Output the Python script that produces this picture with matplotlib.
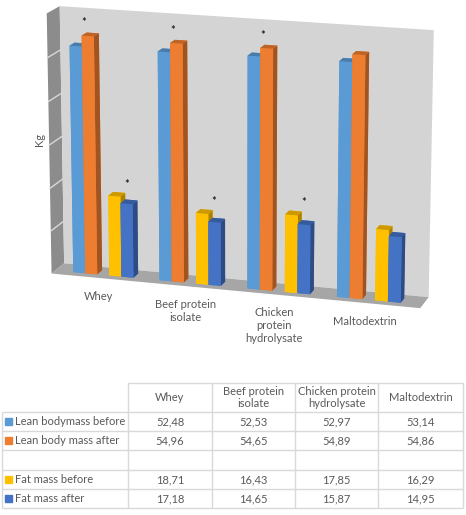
import numpy as np
import matplotlib.pyplot as plt
from matplotlib.colors import to_rgb
from matplotlib.patches import Rectangle

plt.rcParams['font.family'] = ['Lato', 'DejaVu Sans']

categories = ["Whey", "Beef protein\nisolate", "Chicken\nprotein\nhydrolysate", "Maltodextrin"]
table_headers = ["Whey", "Beef protein\nisolate", "Chicken protein\nhydrolysate", "Maltodextrin"]
series_names = ["Lean bodymass before", "Lean body mass after", "", "Fat mass before", "Fat mass after"]
lean_before = [52.48, 52.53, 52.97, 53.14]
lean_after = [54.96, 54.65, 54.89, 54.86]
fat_before = [18.71, 16.43, 17.85, 16.29]
fat_after = [17.18, 14.65, 15.87, 14.95]
lean_signif = [True, True, True, False]
fat_signif = [True, True, True, False]
colors = ["#5B9BD5", "#ED7D31", None, "#FFC000", "#4472C4"]

series = [lean_before, lean_after, None, fat_before, fat_after]
txt = "#595959"


def shade(c, f):
    r, g, b = to_rgb(c)
    return (r * f, g * f, b * f)


fig = plt.figure(figsize=(4.66, 5.15), dpi=100)

# ---- 3D column chart ----
ax = fig.add_axes([0.0, 0.365, 1.0, 0.65], projection='3d')
ax.set_proj_type('persp', focal_length=1.5)
ax.view_init(elev=15, azim=-73)
ax.set_box_aspect((3.7, 0.35, 2.6), zoom=1.38)

bw = 0.14
off = 0.21
for s, vals in enumerate(series):
    if vals is None:
        continue
    c = colors[s]
    # faces: bottom, top, front, back, left, right
    faces = [c, shade(c, 0.8), c, c, c, shade(c, 0.67)]
    for i, v in enumerate(vals):
        bars = ax.bar3d(i + off + s * bw, 0.3, 0, bw, 0.4, v,
                        color=faces, shade=False, edgecolor='none')
        bars.set_clip_on(False)

for i in range(len(categories)):
    if lean_signif[i]:
        ax.text(i + off + bw, 0.5, max(lean_before[i], lean_after[i]) + 2.5, "*",
                ha='center', va='center', fontsize=8, color='black', clip_on=False)
    if fat_signif[i]:
        ax.text(i + off + 4.3 * bw, 0.5, max(fat_before[i], fat_after[i]) + 2.5, "*",
                ha='center', va='center', fontsize=8, color='black', clip_on=False)
    ax.text(i + off + 2.4 * bw, 0, -3, categories[i], ha='center', va='top',
            fontsize=8, color=txt, clip_on=False)

for z in [10, 20, 30, 40, 50]:
    ax.plot([0, 0], [0, 1], [z, z], color='#d9d9d9', lw=1, clip_on=False)

ax.set_xlim(0, 4.15)
ax.set_ylim(0, 1)
ax.set_zlim(0, 60)
ax.set_xticks([])
ax.set_yticks([])
ax.set_zticks([])
ax.grid(False)
ax.xaxis.set_pane_color('#8c8c8c')
ax.yaxis.set_pane_color('#d4d4d4')
ax.zaxis.set_pane_color('#a6a6a6')
for a in (ax.xaxis, ax.yaxis, ax.zaxis):
    a.line.set_color((0, 0, 0, 0))
    a.pane.set_edgecolor('none')
    a.label.set_visible(False)
    a.offsetText.set_visible(False)

fig.text(40 / 466, 1 - 140 / 515, "Kg", rotation=90, ha='center', va='center',
         fontsize=8, color=txt)

# ---- data table ----
tax = fig.add_axes([0, 0, 1, 145 / 515])
tax.set_xlim(0, 466)
tax.set_ylim(515, 370)
tax.axis('off')
row_y = [383, 412, 431, 450, 470, 489, 508]
col_x = [2, 128, 212, 295, 378, 463]
grid_c = '#d9d9d9'
tax.hlines(row_y[0], col_x[1], col_x[-1], color=grid_c, lw=1)
tax.hlines(row_y[1:], col_x[0], col_x[-1], color=grid_c, lw=1)
tax.vlines(col_x[0], row_y[1], row_y[-1], color=grid_c, lw=1)
tax.vlines(col_x[1:], row_y[0], row_y[-1], color=grid_c, lw=1)

for j, h in enumerate(table_headers):
    tax.text((col_x[j + 1] + col_x[j + 2]) / 2, (row_y[0] + row_y[1]) / 2, h,
             ha='center', va='center', fontsize=8, color=txt, linespacing=1.1)
for r, vals in enumerate(series):
    yc = (row_y[r + 1] + row_y[r + 2]) / 2
    if vals is None:
        continue
    tax.add_patch(Rectangle((5, yc - 3.5), 7, 7, color=colors[r]))
    tax.text(15, yc, series_names[r], ha='left', va='center', fontsize=8, color=txt)
    for j, v in enumerate(vals):
        tax.text((col_x[j + 1] + col_x[j + 2]) / 2, yc, f"{v:.2f}".replace('.', ','),
                 ha='center', va='center', fontsize=8, color=txt)

fig.savefig("out.png", dpi=100)
